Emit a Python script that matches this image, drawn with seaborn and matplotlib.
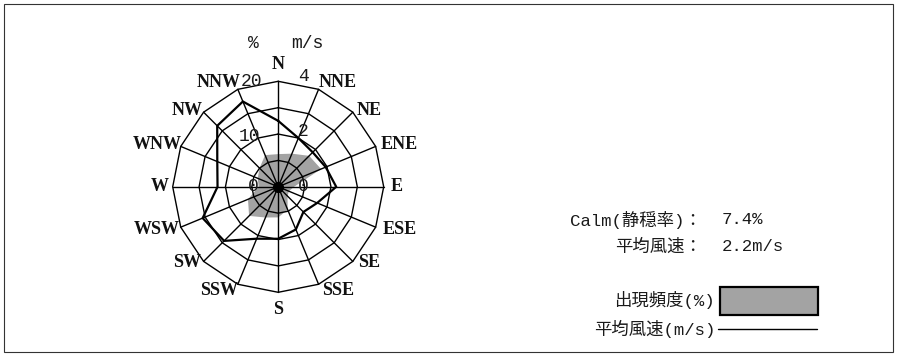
import numpy as np
import matplotlib
matplotlib.use('Agg')
import matplotlib.pyplot as plt
import seaborn as sns
from matplotlib.patches import Rectangle
from matplotlib.lines import Line2D

# 风向（16方位）
directions = ['N', 'NNE', 'NE', 'ENE', 'E', 'ESE', 'SE', 'SSE',
              'S', 'SSW', 'SW', 'WSW', 'W', 'WNW', 'NW', 'NNW']
# 出現頻度(%)
freq_pct = [6.2, 6.8, 8.3, 8.8, 3.0, 2.2, 2.5, 4.7,
            5.8, 6.3, 7.8, 6.2, 3.7, 4.2, 5.0, 6.5]
# 平均風速(m/s)
mean_speed = [2.5, 2.0, 1.85, 1.95, 2.2, 1.6, 1.35, 1.75,
              1.97, 2.13, 2.9, 3.1, 2.3, 2.5, 3.27, 3.5]
pct_ticks = [0, 10, 20]
speed_ticks = [0, 2, 4]
calm_rate = 7.4
avg_speed = 2.2

sns.set_style('white')
plt.rcParams['font.family'] = ['Liberation Mono', 'Noto Sans CJK JP', 'DejaVu Sans']

W, H = 897, 356
fig = plt.figure(figsize=(W / 100, H / 100), dpi=100)

# 外枠
fig.patches.append(Rectangle((3.5 / W, 4 / H), (893 - 3.5) / W, (352 - 4) / H,
                             transform=fig.transFigure, fill=False,
                             edgecolor='#333333', lw=0.8))

# 风玫瑰图的极坐标轴
cx, cy, R = 278.2, 186.8, 105.5
ax = fig.add_axes([(cx - R) / W, 1 - (cy + R) / H, 2 * R / W, 2 * R / H],
                  projection='polar')
ax.set_theta_zero_location('N')
ax.set_theta_direction(-1)
pct_max = pct_ticks[-1]
ax.set_ylim(0, pct_max)
ax.set_xticks([])
ax.set_yticks([])
ax.grid(False)
ax.spines['polar'].set_visible(False)

n = len(directions)
theta = np.arange(n) * 2 * np.pi / n
th_closed = np.append(theta, 2 * np.pi)

# 出現頻度（灰色区域）
freq_closed = np.append(freq_pct, freq_pct[0])
ax.fill(th_closed, freq_closed, color='#a3a3a3', lw=0, zorder=1)

# 网格：16角形的环和放射线
for r in [5, 10, 15, 20]:
    ax.plot(th_closed, [r] * (n + 1), color='k', lw=1.0, clip_on=False, zorder=2)
for t in theta:
    ax.plot([t, t], [0, pct_max], color='k', lw=1.0, clip_on=False, zorder=2)

# 平均風速（折线），4 m/s 对应 20%
speed_scale = pct_max / speed_ticks[-1]
speed_closed = np.append(mean_speed, mean_speed[0]) * speed_scale
sns.lineplot(x=th_closed, y=speed_closed, sort=False, estimator=None,
             color='k', lw=1.6, ax=ax, zorder=3)
ax.set_xlabel('')
ax.set_ylabel('')
ax.plot([0], [0], 'o', color='k', ms=7, zorder=4)

# 方位标签
base = [(0, 1.16), (0.565, 0.985), (0.86, 0.72), (1.15, 0.40), (1.12, 0)]
for k, name in enumerate(directions):
    if k <= 4:
        x, y = base[k]
    elif k <= 8:
        x, y = base[8 - k]
        y = -y
    elif k <= 12:
        x, y = base[k - 8]
        x, y = -x, -y
    else:
        x, y = base[16 - k]
        x = -x
    ax.text(np.arctan2(x, y), np.hypot(x, y) * pct_max, name,
            family='Liberation Serif', fontweight='bold', fontsize=13,
            ha='center', va='center', color='#111111')

# 刻度标签（左：%，右：m/s）
tick_kw = dict(textcoords='offset pixels', ha='center', va='center',
               fontsize=13, color='#1a1a1a', annotation_clip=False)
dy_pct = {0: 0, 10: -2.5, 20: 0}
dx_pct = {0: -25, 10: -29, 20: -27}
for v in pct_ticks:
    ax.annotate(str(v), xy=(0, v), xytext=(dx_pct[v], dy_pct[v]), **tick_kw)
dy_spd = {0: 0, 2: 2.5, 4: 4.5}
for v in speed_ticks:
    ax.annotate(str(v), xy=(0, v * speed_scale), xytext=(25, dy_spd[v]), **tick_kw)
ax.annotate('%', xy=(0, pct_max), xytext=(-25, 38), **tick_kw)
ax.annotate('m/s', xy=(0, pct_max), xytext=(29, 38), **tick_kw)

# 右侧说明
txt_kw = dict(fontsize=12.5, color='#1a1a1a', va='center')
fig.text(702 / W, 1 - 220 / H, 'Calm(静穏率)：', ha='right', **txt_kw)
fig.text(722 / W, 1 - 220 / H, f'{calm_rate}%', ha='left', **txt_kw)
fig.text(702 / W, 1 - 246.5 / H, '平均風速：', ha='right', **txt_kw)
fig.text(722 / W, 1 - 246.5 / H, f'{avg_speed}m/s', ha='left', **txt_kw)

fig.text(715 / W, 1 - 300 / H, '出現頻度(%)', ha='right', **txt_kw)
fig.patches.append(Rectangle((719.5 / W, 1 - 314.5 / H), 98.5 / W, 27.5 / H,
                             transform=fig.transFigure, facecolor='#a3a3a3',
                             edgecolor='k', lw=1.6))
fig.text(715 / W, 1 - 329 / H, '平均風速(m/s)', ha='right', **txt_kw)
fig.lines.append(Line2D([718 / W, 817 / W], [1 - 329.3 / H, 1 - 329.3 / H],
                        transform=fig.transFigure, color='k', lw=1.0))

fig.savefig('out.png', dpi=100)
